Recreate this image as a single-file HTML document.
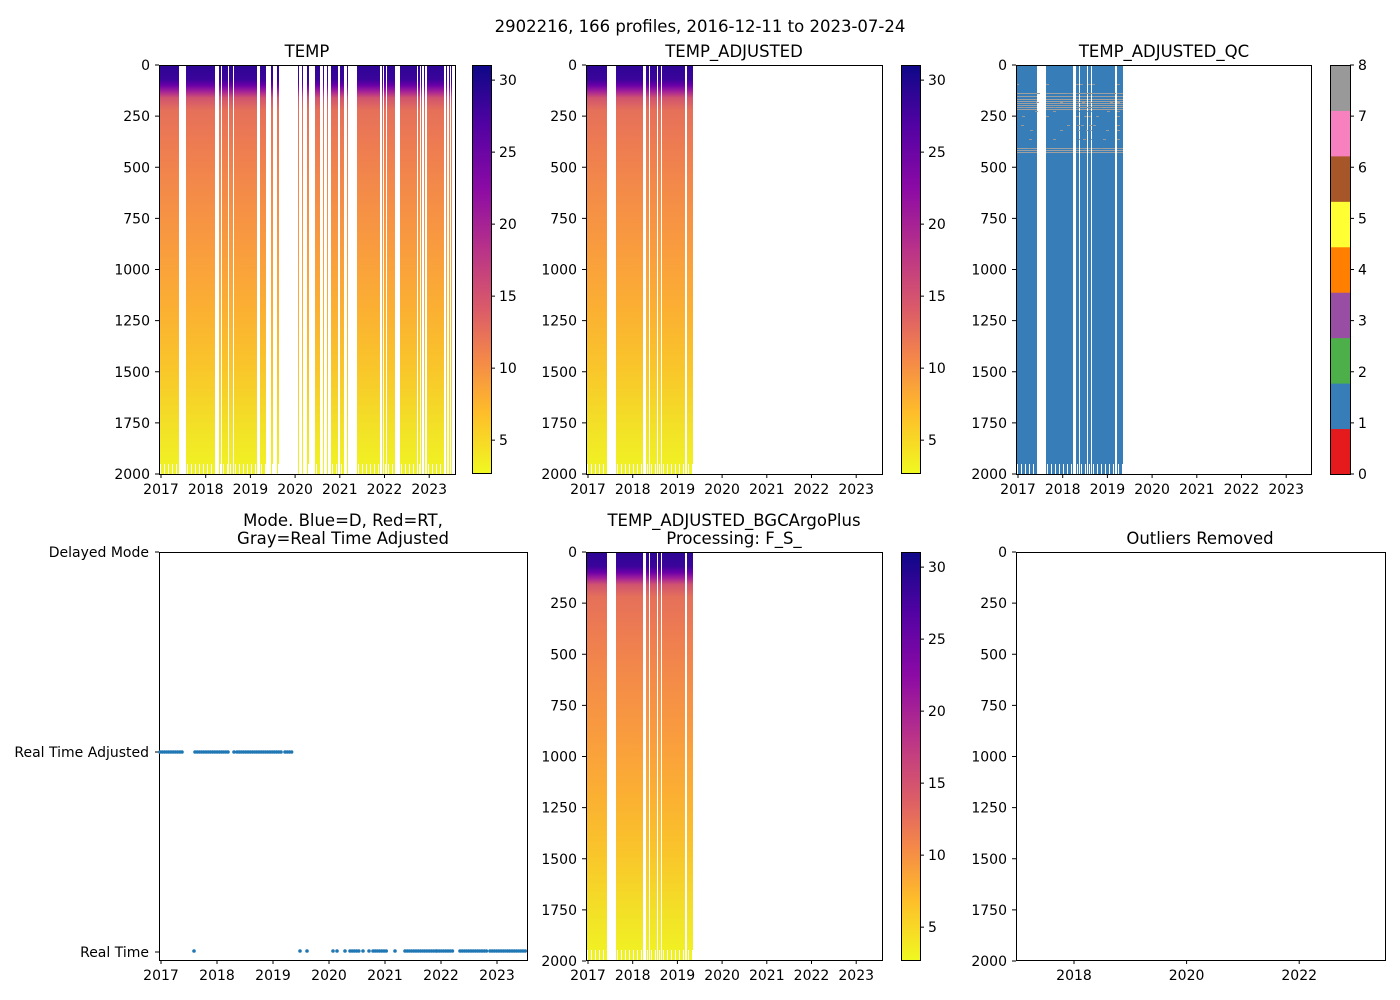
<!DOCTYPE html>
<html><head><meta charset="utf-8">
<style>
body{margin:0;background:#fff;}
svg{display:block;font-family:"DejaVu Sans","Liberation Sans",sans-serif;}
</style></head><body>
<svg id="s" width="1400" height="1000" xmlns="http://www.w3.org/2000/svg">
<defs>
<linearGradient id="gT" gradientUnits="userSpaceOnUse" x1="0" y1="65" x2="0" y2="474">
<stop offset="0" stop-color="#2c0594"/><stop offset="0.035" stop-color="#3b049a"/><stop offset="0.05" stop-color="#6a00a8"/><stop offset="0.065" stop-color="#a52297"/><stop offset="0.08" stop-color="#d0536f"/><stop offset="0.11" stop-color="#e5705a"/><stop offset="0.2" stop-color="#ee7c51"/><stop offset="0.3" stop-color="#f38a49"/><stop offset="0.45" stop-color="#f99c3e"/><stop offset="0.6" stop-color="#fbb032"/><stop offset="0.75" stop-color="#f9c72a"/><stop offset="0.875" stop-color="#f3df27"/><stop offset="1" stop-color="#f0f423"/>
</linearGradient>
<linearGradient id="gB" gradientUnits="userSpaceOnUse" x1="0" y1="552" x2="0" y2="960">
<stop offset="0" stop-color="#2c0594"/><stop offset="0.035" stop-color="#3b049a"/><stop offset="0.05" stop-color="#6a00a8"/><stop offset="0.065" stop-color="#a52297"/><stop offset="0.08" stop-color="#d0536f"/><stop offset="0.11" stop-color="#e5705a"/><stop offset="0.2" stop-color="#ee7c51"/><stop offset="0.3" stop-color="#f38a49"/><stop offset="0.45" stop-color="#f99c3e"/><stop offset="0.6" stop-color="#fbb032"/><stop offset="0.75" stop-color="#f9c72a"/><stop offset="0.875" stop-color="#f3df27"/><stop offset="1" stop-color="#f0f423"/>
</linearGradient>
<linearGradient id="cb" x1="0" y1="0" x2="0" y2="1">
<stop offset="0" stop-color="#0d0887"/><stop offset="0.15" stop-color="#5302a3"/><stop offset="0.3" stop-color="#8b0aa5"/><stop offset="0.45" stop-color="#b83289"/><stop offset="0.6" stop-color="#db5c68"/><stop offset="0.72" stop-color="#f48849"/><stop offset="0.85" stop-color="#febd2a"/><stop offset="1" stop-color="#f0f921"/>
</linearGradient>
</defs>
<g id="g"></g>
<text x="700" y="32" font-size="16.5" text-anchor="middle">2902216, 166 profiles, 2016-12-11 to 2023-07-24</text>
<g font-size="16.5" text-anchor="middle">
<text x="307" y="57">TEMP</text>
<text x="734" y="57">TEMP_ADJUSTED</text>
<text x="1164" y="57">TEMP_ADJUSTED_QC</text>
<text x="343" y="526">Mode. Blue=D, Red=RT,</text>
<text x="343" y="544">Gray=Real Time Adjusted</text>
<text x="734" y="526">TEMP_ADJUSTED_BGCArgoPlus</text>
<text x="734" y="544">Processing: F_S_</text>
<text x="1200" y="544">Outliers Removed</text>
</g>
</svg>
<script>
const g=document.getElementById('g');let h='';
function R(x,y,w,hh,f){h+=`<rect x="${x}" y="${y}" width="${w}" height="${hh}" fill="${f}"/>`;}
function T(x,y,t,a){h+=`<text x="${x}" y="${y}" font-size="14" text-anchor="${a||'middle'}">${t}</text>`;}
const c1=[[159,179],[186,215],[219,221],[222,228],[229,233],[234,257],[260,266],[271,273],[277,279],[298,299],[302,303],[307,309],[315,320],[323,324],[327,328],[331,338],[340,344],[347,348],[357,380],[382,383],[384,386],[387,395],[400,417],[418,420],[421,422],[424,425],[427,444],[446,447],[449,450],[451,452]];
const c2=[[586,607],[616,643],[646,649],[650,657],[658,661],[662,685],[687,693]];
c1.forEach(c=>R(c[0],65,c[1]-c[0],409,'url(#gT)'));
c2.forEach(c=>R(c[0],65,c[1]-c[0],409,'url(#gT)'));
c2.forEach(c=>R(c[0],552,c[1]-c[0],408,'url(#gB)'));
c2.forEach(c=>{R(c[0]+430,65,c[1]-c[0],409,'#377eb8');
 for(let y of [93,96,99,101,103,105,107,109,148,150,152]) R(c[0]+430,y,c[1]-c[0],1,'#a0a0a0');
 for(let k=0;k<10;k++) R(c[0]+430+((k*7)%(c[1]-c[0]+1)),84+k*3+(k%3)*20,3,1,'#999');
});
[c1,c2].forEach(L=>L.forEach(c=>{for(let x=c[0]+1;x<c[1];x+=4)R(x,464,1,10,'#fff');}));
c2.forEach(c=>{for(let x=c[0]+1;x<c[1];x+=4){R(x,950,1,10,'#fff');R(x+430,464,1,10,'#fff');}});
function box(x,y,w,hh){h+=`<rect x="${x}" y="${y}" width="${w}" height="${hh}" fill="none" stroke="#000" stroke-width="1"/>`;}
function depthTicks(x,y0){const d=[0,250,500,750,1000,1250,1500,1750,2000];d.forEach(v=>{const y=y0+v*(409/2000);h+=`<line x1="${x-4}" y1="${y}" x2="${x}" y2="${y}" stroke="#000"/>`;T(x-9,y+5,v,'end');});}
function yearTicks(x0,px,y,yrs){yrs.forEach(yr=>{const x=x0+(yr-2017)*px;h+=`<line x1="${x}" y1="${y}" x2="${x}" y2="${y+4}" stroke="#000"/>`;T(x,y+20,yr);});}
const yrs=[2017,2018,2019,2020,2021,2022,2023];
[[159,65,296],[586,65,296],[1016,65,295]].forEach(a=>{box(a[0]+0.5,a[1]+0.5,a[2],409);depthTicks(a[0],a[1]);yearTicks(a[0]+2,44.7,474,yrs);});
box(586.5,552.5,296,408);depthTicks(586,552);yearTicks(588,44.7,960,yrs);
box(1016.5,552.5,369,408);depthTicks(1016,552);yearTicks(1074-56.3,56.3,960,[2018,2020,2022]);
function cbar(x,y){R(x,y,19,409,'url(#cb)');box(x+0.5,y+0.5,19,408);[5,10,15,20,25,30].forEach(v=>{const yy=y+409-(v-2.65)*(409/28.4);h+=`<line x1="${x+19}" y1="${yy}" x2="${x+23}" y2="${yy}" stroke="#000"/>`;T(x+27,yy+5,v,'start');});}
cbar(472,65);cbar(901,65);cbar(901,552);
const qc=['#e41a1c','#377eb8','#4daf4a','#984ea3','#ff7f00','#ffff33','#a65628','#f781bf','#999999'];
qc.forEach((c,i)=>R(1330,474-(i+1)*409/9,20,409/9+0.5,c));
box(1330.5,65.5,20,409);
for(let v=0;v<=8;v++){const yy=474-v*409/8;h+=`<line x1="1350" y1="${yy}" x2="1354" y2="${yy}" stroke="#000"/>`;T(1358,yy+5,v,'start');}
box(159.5,552.5,368,408);
[[552,'Delayed Mode'],[752,'Real Time Adjusted'],[952,'Real Time']].forEach(a=>{h+=`<line x1="155" y1="${a[0]}" x2="159" y2="${a[0]}" stroke="#000"/>`;T(149,a[0]+5,a[1],'end');});
yearTicks(161,56,960,yrs);
function pts(segs,y){segs.forEach(s=>{if(s.length==1)s=[s[0],s[0]];for(let x=s[0];x<=s[1];x+=2.2)h+=`<circle cx="${x}" cy="${y}" r="1.8" fill="#1f77b4"/>`;});}
pts([[160,184],[195,229],[234],[237,282],[285,293]],752);
pts([[194],[300],[307],[333],[337],[345],[350,360],[363],[369],[373,387],[395],[405,436],[437,454],[460,488],[490,527]],951);
g.innerHTML=h;
</script>
</body></html>
